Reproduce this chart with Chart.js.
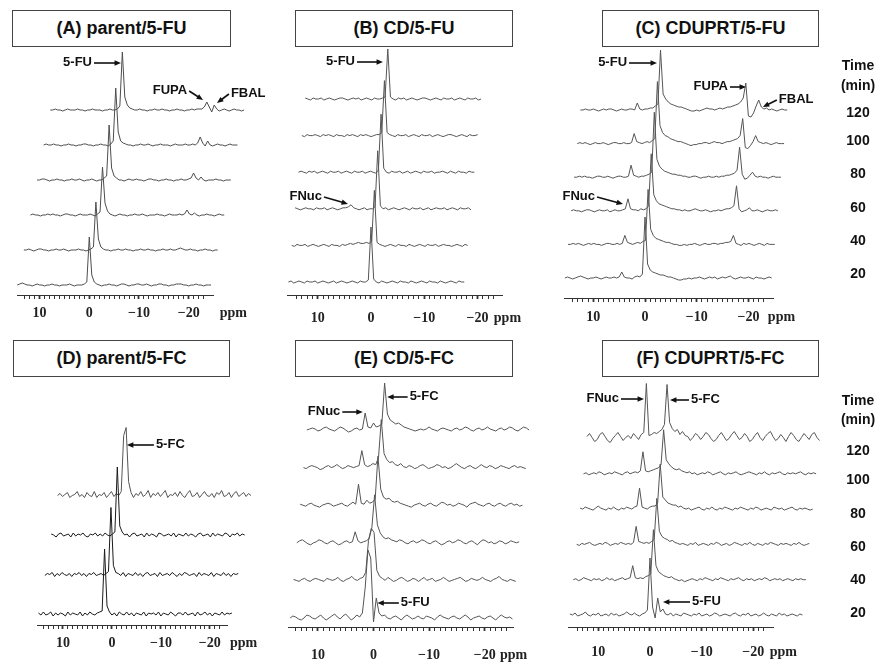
<!DOCTYPE html>
<html>
<head>
<meta charset="utf-8">
<script src="https://cdn.jsdelivr.net/npm/chart.js@4.4.1/dist/chart.umd.min.js"></script>
<style>
  body { margin: 0; background: #fff; width: 875px; height: 665px; position: relative; overflow: hidden;
         font-family: "Liberation Sans", Arial, sans-serif; }
  .title { position: absolute; height: 37px; box-sizing: border-box; border: 1.5px solid #444;
           font-weight: bold; font-size: 18px; line-height: 34px; text-align: center; color: #111; }
  canvas { position: absolute; }
  .time { position: absolute; width: 50px; text-align: center; font-weight: bold; font-size: 14px;
          color: #111; line-height: 16px; }
</style>
</head>
<body>
<div class="title" style="left:12px;top:10px;width:219px">(A) parent/5-FU</div>
<div class="title" style="left:295px;top:10px;width:218px">(B) CD/5-FU</div>
<div class="title" style="left:602px;top:10px;width:217px">(C) CDUPRT/5-FU</div>
<div class="title" style="left:13px;top:340px;width:217px">(D) parent/5-FC</div>
<div class="title" style="left:295px;top:340px;width:218px">(E) CD/5-FC</div>
<div class="title" style="left:602px;top:340px;width:217px">(F) CDUPRT/5-FC</div>

<canvas id="cA" width="290" height="282" style="left:0;top:48px"></canvas>
<canvas id="cB" width="300" height="282" style="left:280px;top:48px"></canvas>
<canvas id="cC" width="315" height="282" style="left:560px;top:48px"></canvas>
<canvas id="cD" width="290" height="287" style="left:0;top:378px"></canvas>
<canvas id="cE" width="300" height="287" style="left:280px;top:378px"></canvas>
<canvas id="cF" width="315" height="287" style="left:560px;top:378px"></canvas>

<script>
// spectra, one row per time point (bottom trace first), sampled every 0.5 ppm
const times = ["20", "40", "60", "80", "100", "120"];
const STEP = 0.5;

// (A) parent/5-FU, from 14.5 ppm
const parentFU = [
  [0,1,2,1,0,0,-1,0,1,0, 0,-1,0,0,1,0,0,-1,0,0, 0,1,0,-1,0,0,0,1,3,48,
   10,3,1,0,-1,0,0,1,0,0, -1,0,1,1,0,-1,0,0,1,1, 0,0,1,0,-1,0,0,1,1,0,
   0,-1,0,0,1,1,1,0,0,-1, 0,0,1,0,0,-1,0,0,0],
  [0,0,1,0,-1,0,1,1,0,0, -1,0,0,1,0,0,1,0,-1,0, 0,0,1,0,0,-1,0,1,3,48,
   11,3,1,0,0,-1,0,0,1,0, 0,1,0,0,-1,0,0,1,0,0, 1,0,0,-1,0,0,1,0,0,1,
   0,0,1,2,1,0,0,1,0,0, -1,0,0,1,0,0,-1,0,0],
  [0,1,0,0,-1,0,0,1,0,1, 0,0,-1,0,1,1,0,0,-1,0, 1,0,0,0,1,0,-1,1,3,48,
   12,4,1,0,-1,0,1,0,0,-1, 0,0,1,0,0,1,0,-1,0,0, 0,1,0,0,-1,0,1,0,0,0,
   1,0,1,5,1,0,2,0,-1,0, 0,1,0,0,-1,0,1,0,0],
  [0,0,1,1,0,-1,0,0,1,0, 0,-1,0,0,1,0,0,1,0,-1, 0,0,1,0,-1,0,0,2,4,55,
   12,4,2,0,0,-1,0,1,0,0, 1,0,0,-1,0,1,1,0,0,-1, 0,0,1,0,0,-1,0,0,1,0,
   0,1,2,7,2,0,3,0,-1,0, 0,0,1,0,0,-1,0,0,0],
  [0,1,0,0,1,0,0,-1,0,0, 1,0,0,-1,0,0,1,1,0,0, -1,0,0,1,0,0,-1,1,4,57,
   13,4,2,1,0,0,-1,0,0,1, 0,0,1,0,-1,0,0,1,0,0, 0,-1,0,1,0,0,0,1,0,0,
   1,0,2,8,2,-1,4,0,-1,0, 1,0,0,-1,0,1,0,0,0],
  [0,0,1,0,0,-1,0,1,0,0, 0,1,0,0,-1,0,0,1,0,0, 0,-1,0,0,1,0,0,1,4,58,
   13,5,2,1,0,0,1,0,0,-1, 0,0,1,0,0,1,0,0,-1,0, 0,1,0,0,-1,0,0,1,0,1,
   1,1,3,8,3,-2,5,1,-1,0, 1,0,-1,0,1,0,0,-1,0]
];

// (B) CD/5-FU, from 15.5 ppm
const cdFU = [
  [0,1,-1,0,1,0,-1,1,0,0, 1,-1,0,1,0,-1,0,1,-1,0, 1,0,-1,0,1,0,-1,1,0,0,
   2,55,3,0,-1,1,0,-1,0,1, 0,-1,1,0,0,-1,1,0,-1,0, 1,0,-1,1,0,0,-1,1,0,-1,
   0,1,0,-1,1,0,0],
  [0,-1,1,0,0,1,-1,0,1,0, -1,0,1,0,-1,1,0,0,-1,1, 0,1,2,1,2,3,2,2,3,2,
   4,55,3,1,0,-1,0,1,0,-1, 1,0,0,-1,1,0,-1,0,1,0, -1,1,0,0,1,-1,0,1,0,0,
   -1,0,1,0,-1,1,0],
  [1,0,-1,0,1,0,0,-1,1,0, 0,1,-1,0,1,0,-1,0,1,1, 2,4,1,0,-1,0,1,-1,0,0,
   2,58,3,0,1,-1,0,1,0,-1, 0,1,0,-1,1,0,0,1,-1,0, 1,-1,0,1,0,0,1,-1,0,1,
   0,-1,1,0,0,1,-1],
  [0,1,0,-1,1,0,1,-1,0,1, 0,-1,1,0,0,1,-1,0,1,0, -1,1,0,0,1,-1,0,1,0,-1,
   2,58,4,0,-1,1,0,0,1,-1, 0,1,-1,0,1,0,-1,1,0,0, 1,-1,0,0,1,0,-1,1,0,-1,
   1,0,0,-1,1,0,0],
  [0,-1,1,0,0,1,0,-1,1,0, 1,0,-1,1,0,0,-1,1,0,1, 0,-1,1,0,1,0,-1,0,1,1,
   3,55,3,1,0,-1,1,0,0,1, -1,0,1,0,-1,1,0,0,1,-1, 0,1,0,-1,0,1,1,0,-1,0,
   1,0,-1,1,0,0,1],
  [1,0,-1,1,0,0,1,-1,0,1, 0,-1,0,1,1,0,-1,0,1,0, 1,-1,0,1,0,-1,1,0,0,1,
   2,50,2,0,-1,1,0,1,-1,0, 1,0,-1,0,1,1,0,-1,0,1, 0,-1,1,0,0,1,-1,0,1,0,
   -1,1,0,0,1,-1,0]
];

// (C) CDUPRT/5-FU, from 15.5 ppm
const cduprtFU = [
  [0,1,0,-1,0,1,2,1,0,-1, 0,0,1,0,-1,0,1,0,0,1, 0,1,6,1,0,0,-1,1,2,1,
   4,61,14,8,6,5,4,3,3,2, 1,1,0,-1,-2,-2,-1,-1,0,-1, 0,0,1,0,-1,0,1,0,1,-1,
   0,1,0,1,2,0,-1,0,1,0, 0,1,0,-1,1,0,0,-1,0,1, 0],
  [0,0,1,0,1,0,-1,0,1,0, 1,0,0,-1,0,1,1,0,0,1, 0,1,9,2,1,0,1,2,1,3,
   4,55,15,9,6,5,4,3,2,2, 1,0,0,-1,-1,0,-1,0,0,1, 0,-1,0,1,0,0,1,1,0,1,
   1,2,2,3,9,1,0,-1,1,0, 1,0,-1,0,1,0,-1,1,0,0, 0],
  [0,1,0,0,-1,0,1,1,0,-1, 0,1,0,0,1,-1,0,1,0,0, 1,2,12,2,1,1,0,2,1,2,
   5,57,16,10,7,6,5,4,3,2, 2,1,1,0,1,0,0,1,2,1, 0,0,1,0,-1,0,0,1,0,1,
   2,2,3,5,25,2,-1,0,1,3, 0,0,1,0,-1,0,1,0,0,1, 0],
  [0,0,1,0,1,0,0,-1,0,1, 1,0,0,1,0,-1,0,1,1,0, 0,1,12,2,1,0,1,1,2,3,
   5,65,18,11,8,6,5,4,3,3, 2,2,1,1,0,0,1,1,0,-1, 0,0,1,0,0,1,0,1,1,2,
   2,3,4,7,30,3,-2,-1,2,5, 1,0,1,0,0,-1,0,1,0,0, 0],
  [0,1,0,1,0,-1,0,1,0,0, 1,0,-1,0,1,1,0,0,1,0, 0,1,10,2,1,0,1,2,1,3,
   5,62,18,11,8,7,5,4,3,2, 2,1,0,-1,-2,-1,-1,0,0,1, 1,0,1,2,1,1,0,1,2,2,
   3,4,5,8,25,-4,-5,-2,2,8, 2,1,0,1,0,-1,0,1,0,0, 0],
  [0,0,1,0,0,1,0,-1,0,1, 0,1,1,0,-1,0,1,0,0,1, 1,0,7,1,0,1,1,2,2,4,
   6,60,16,11,8,6,5,4,3,3, 2,1,0,-1,-1,0,-1,0,1,2, 1,1,0,1,2,1,2,3,3,4,
   5,6,8,12,27,-6,-7,-3,4,10, 3,1,2,0,1,0,-1,0,1,0, 0]
];

// (D) parent/5-FC, from 15 ppm
const parentFC = [
  [1,-1,2,-1,0,2,-2,1,-1,1, 0,-2,2,-1,1,0,-1,2,-2,1, -1,2,0,-1,1,2,3,65,8,2,
   -1,1,-2,2,0,-1,2,-1,1,-2, 1,0,-1,2,-2,1,0,1,-1,2, -2,1,0,-1,2,0,-2,1,1,-1,
   2,-1,0,1,-2,2,-1,0,2,-1, 1,-2,1,0,-1,2,-1,1,0,1],
  [-1,1,0,2,-2,1,-1,2,0,-1, 1,-2,1,0,2,-1,1,-2,1,0, 2,-1,0,1,-1,1,3,67,9,2,
   1,-1,2,-2,1,0,-1,2,-1,1, -2,1,2,-1,0,1,-2,2,-1,0, 1,-1,2,0,-2,1,-1,2,1,-1,
   0,1,-2,2,-1,1,0,-1,2,-2, 1,0,-1,2,-1,1,-2,1,0,1],
  [1,0,-2,1,2,-1,0,1,-2,2, -1,1,0,2,-1,-2,1,0,2,-1, 1,-1,2,0,-1,1,3,68,9,3,
   0,1,-2,1,2,-1,0,1,-2,2, -1,1,0,-2,2,1,-1,0,1,-1, 2,-2,1,0,-1,2,-1,1,0,-2,
   1,2,-1,0,1,-2,2,-1,1,0, -1,2,1,-2,1,0,2,-1,1,0],
  [0,2,-1,1,3,-2,0,1,4,-1, 1,-2,3,0,-1,4,-2,1,0,3, -2,1,4,-1,2,0,4,60,68,14,
   3,-2,2,0,4,-1,1,5,-2,2, 0,3,-1,2,5,-2,1,0,3,-1, 4,0,-2,2,5,-1,0,3,-2,1,
   4,0,-1,2,-2,3,1,5,-1,0, 3,-2,2,4,-1,1,3,-1,2,0]
];

// (E) CD/5-FC, from 15 ppm
const cdFC = [
  [0,2,1,-1,-2,0,3,2,0,-1, 1,3,0,-2,0,2,4,1,-1,2, 4,1,-2,0,3,1,5,30,68,60,
   -4,20,5,2,3,0,-1,1,2,0, -2,1,3,1,-1,0,2,0,-1,2, 1,0,-2,1,3,1,0,-1,1,2,
   0,-1,1,3,1,-2,0,1,2,0, -1,1,2,0,-2,1,3,1,0,1, -1],
  [1,0,-1,1,2,0,-1,1,2,1, 0,-1,2,1,0,1,3,0,-1,1, 2,4,1,0,2,3,8,40,52,48,
   10,4,2,0,3,1,-1,0,2,3, 1,-1,0,2,1,-1,1,3,0,1, 2,-1,0,1,3,1,-1,0,1,2,
   3,1,-1,0,2,1,0,1,3,1, 0,-1,1,2,4,1,0,-1,1,0, -1],
  [0,2,3,1,-1,-2,0,1,3,2, 0,-1,1,2,0,-2,-1,1,2,0, 1,11,2,0,1,2,4,15,48,18,
   10,6,4,5,3,2,1,3,2,0, -1,1,2,0,1,3,2,0,-1,1, 2,0,-2,-1,1,2,0,1,3,2,
   0,-1,1,2,0,-2,1,3,2,0, 1,-1,0,2,1,-1,0,2,1,0, 1],
  [1,0,-1,1,2,0,-1,-2,0,1, 2,1,-1,0,1,2,0,-1,1,3, 1,21,2,1,5,2,3,6,49,16,
   8,6,7,4,3,4,2,1,0,-1, -2,0,1,2,0,-1,1,2,0,-1, 1,3,2,0,1,-1,0,2,1,0,
   -2,1,2,3,1,0,-1,1,2,0, -1,1,2,0,-1,1,2,0,1,-1, 0],
  [0,-1,1,2,1,0,-2,-1,1,2, 0,1,3,1,-1,0,2,1,0,1, 2,17,3,1,2,4,3,10,48,14,
   8,5,6,3,2,4,1,0,2,1, -1,0,2,3,1,-1,0,1,3,2, 0,1,-1,0,2,4,2,0,-1,1,
   2,0,-1,1,3,1,0,2,1,-1, 0,2,1,0,-1,1,2,0,1,0, -1],
  [0,1,2,1,-1,0,2,3,1,0, -1,1,3,2,0,-2,-1,1,2,0, 1,17,3,2,7,3,4,6,47,16,
   10,8,6,7,5,3,2,1,0,-1, 0,1,0,1,3,1,0,-1,1,2, 1,0,-1,1,2,0,1,3,2,0,
   -1,1,2,0,1,3,1,0,-1,1, 2,0,1,3,2,0,-1,1,3,2, 0]
];

// (F) CDUPRT/5-FC, from 15.5 ppm
const cduprtFC = [
  [1,0,2,-1,0,1,3,0,-1,1, 0,2,-1,0,1,-1,2,0,1,-1, 0,1,3,1,0,2,0,-1,1,2,
   5,57,8,-3,17,3,6,1,0,2, -1,1,0,-1,2,1,0,-1,1,0, 2,-1,0,1,-1,0,2,1,-1,0,
   1,0,-1,1,2,0,-1,1,0,2, -1,0,1,-1,0,2,0,-1,1,0, -1,2,0,1,-1,0,1,0,-1,1, 0],
  [0,1,-1,0,2,1,0,-1,1,0, 1,-1,0,2,0,1,-1,0,1,2, 0,1,2,14,2,1,2,1,3,4,
   6,50,14,8,6,4,3,2,3,1, 0,-1,0,-2,-1,0,1,0,-1,1, 0,2,1,0,-1,1,0,2,1,0,
   -1,1,0,1,2,0,-1,1,0,1, -1,0,1,0,2,1,-1,0,1,0, 1,-1,0,1,0,-1,1,0,1,0, 0],
  [0,-1,1,0,1,2,0,-1,0,1, 0,2,1,-1,0,1,0,2,1,0, 1,0,2,18,3,2,1,2,1,3,
   5,46,13,8,6,5,3,4,2,1, 0,1,0,-1,1,0,2,-1,0,1, 0,-1,1,0,2,1,-1,0,1,-1,
   0,2,1,0,-1,1,0,2,0,-1, 1,0,-1,1,0,2,1,0,-1,1, 0,1,0,-1,1,0,2,0,-1,0, 1],
  [1,0,2,1,0,-1,1,3,1,0, -1,1,0,2,0,-1,1,0,2,1, 0,2,3,21,2,1,0,2,3,3,
   6,45,12,9,6,5,4,4,2,3, 1,0,1,-1,0,1,2,0,-1,1, 0,2,0,-1,1,0,2,1,0,-1,
   1,0,2,1,0,-1,1,0,2,1, -1,0,1,0,-1,2,1,0,1,-1, 0,1,2,0,-1,1,0,1,0,-1, 0],
  [0,1,-1,0,1,0,2,1,-1,0, 1,0,2,1,0,-1,1,2,0,1, 2,1,3,22,3,2,3,4,5,6,
   9,44,14,10,7,5,4,5,3,2, 1,2,0,1,-1,0,1,0,2,1, -1,0,1,2,0,-1,1,0,1,2,
   0,-1,0,1,2,1,0,-1,1,0, 2,0,-1,1,0,1,2,0,-1,1, 0,1,0,1,2,0,-1,1,0,1, 0],
  [2,5,1,-3,-1,4,6,2,-2,-4, 0,3,6,2,-2,1,3,0,5,2, -1,4,6,55,3,4,6,5,7,9,
   14,54,16,10,7,9,4,7,3,2, -2,1,5,3,-1,2,6,4,0,-3, -1,3,6,2,-2,0,4,7,3,-1,
   1,5,2,-3,-1,3,6,1,-2,2, 5,7,2,-2,0,4,1,-3,2,6, 3,-1,-3,1,5,2,-1,4,6,1, -2]
];

// layout of each panel (axis range in ppm, stacking offsets in px)
const panels = [
  { id: "cA", traces: parentFU, start: 14.5, shift: 1.33, base: 10, gap: 35, min: -24.9, max: 14.55,
    padLeft: 17, padRight: 77, axisH: 35, top: 247, labelPad: 6, ppmAt: -29.0, color: "#4d4d4d",
    notes: [
      { text: "5-FU", from: [-0.95, 232], to: [-6.38, 232] },
      { text: "FUPA", from: [-20.1, 204], to: [-22.9, 195] },
      { text: "FBAL", from: [-28.1, 201], to: [-25.7, 192] }
    ] },
  { id: "cB", traces: cdFU, start: 15.5, shift: 0.63, base: 13, gap: 36.6, min: -24.58, max: 15.76,
    padLeft: 7, padRight: 78, axisH: 35, top: 247, labelPad: 10.6, ppmAt: -25.6, color: "#555",
    notes: [
      { text: "5-FU", from: [2.63, 233], to: [-2.25, 233] },
      { text: "FNuc", from: [8.82, 98], to: [4.32, 91] }
    ] },
  { id: "cC", traces: cduprtFU, start: 15.5, shift: 0.6, base: 20, gap: 33.6, min: -24.76, max: 15.67,
    padLeft: 4, padRight: 102, axisH: 32, top: 250, labelPad: 6.6, ppmAt: -26.4, color: "#555",
    notes: [
      { text: "5-FU", from: [3.09, 235], to: [-2.32, 235] },
      { text: "FUPA", from: [-16.44, 211], to: [-19.54, 211] },
      { text: "FBAL", from: [-25.5, 198], to: [-22.8, 191] },
      { text: "FNuc", from: [9.28, 101], to: [4.26, 94] }
    ] },
  { id: "cD", traces: parentFC, start: 15, shift: 1.3, base: 11, gap: 39.5, min: -23.5, max: 15.3,
    padLeft: 37, padRight: 63, axisH: 40, top: 247, labelPad: 5.6, ppmAt: -26.9,
    colors: ["#1a1a1a", "#1a1a1a", "#1a1a1a", "#555"],
    notes: [
      { text: "5-FC", from: [-8.57, 180], to: [-3.06, 180] }
    ] },
  { id: "cE", traces: cdFC, start: 15, shift: 0.6, base: 9, gap: 37.6, min: -25.1, max: 15.26,
    padLeft: 3, padRight: 67, axisH: 38, top: 249, labelPad: 15.6, ppmAt: -25.2, color: "#555",
    notes: [
      { text: "FNuc", from: [5.61, 215], to: [1.93, 215] },
      { text: "5-FC", from: [-6.14, 230], to: [-2.46, 230] },
      { text: "5-FU", from: [-4.56, 24], to: [-0.7, 24] }
    ] },
  { id: "cF", traces: cduprtFC, start: 15.5, shift: 0.66, base: 12, gap: 35.3, min: -23.8, max: 15.86,
    padLeft: 8, padRight: 102, axisH: 38, top: 249, labelPad: 12.6, ppmAt: -25.8, color: "#555",
    notes: [
      { text: "FNuc", from: [5.61, 228], to: [1.16, 228] },
      { text: "5-FC", from: [-7.54, 227], to: [-3.87, 227] },
      { text: "5-FU", from: [-7.74, 25], to: [-2.51, 25] }
    ] }
];

const TICK_LEN = 4;
const TICK_FONT = 14;

// arrows with labels + the "ppm" unit next to the axis
function notesFor(p) {
  return {
    id: "notes",
    afterDatasetsDraw(chart) {
      const { ctx } = chart;
      const x = chart.scales.x, y = chart.scales.y;
      ctx.save();
      ctx.fillStyle = "#111";
      ctx.strokeStyle = "#111";
      ctx.lineWidth = 1.6;
      ctx.font = 'bold 13px "Liberation Sans", Arial, sans-serif';
      p.notes.forEach(n => {
        const x0 = x.getPixelForValue(n.from[0]), y0 = y.getPixelForValue(n.from[1]);
        const x1 = x.getPixelForValue(n.to[0]), y1 = y.getPixelForValue(n.to[1]);
        const a = Math.atan2(y1 - y0, x1 - x0);
        ctx.beginPath();
        ctx.moveTo(x0, y0);
        ctx.lineTo(x1 - 5 * Math.cos(a), y1 - 5 * Math.sin(a));
        ctx.stroke();
        ctx.beginPath();
        ctx.moveTo(x1, y1);
        ctx.lineTo(x1 - 7 * Math.cos(a - 0.4), y1 - 7 * Math.sin(a - 0.4));
        ctx.lineTo(x1 - 7 * Math.cos(a + 0.4), y1 - 7 * Math.sin(a + 0.4));
        ctx.closePath();
        ctx.fill();
        ctx.textBaseline = "middle";
        ctx.textAlign = x1 > x0 ? "right" : "left";
        ctx.fillText(n.text, x0 + (x1 > x0 ? -2 : 2), y0 - 1);
      });
      ctx.font = 'bold ' + TICK_FONT + 'px "Liberation Serif", "Times New Roman", serif';
      ctx.fillStyle = "#222";
      ctx.textAlign = "center";
      ctx.textBaseline = "middle";
      ctx.fillText("ppm", x.getPixelForValue(p.ppmAt), x.top + TICK_LEN + p.labelPad + TICK_FONT * 0.6);
      ctx.restore();
    }
  };
}

function drawPanel(p) {
  const datasets = p.traces.map((vals, level) => ({
    data: vals.map((v, k) => ({ x: p.start - STEP * k - level * p.shift, y: p.base + level * p.gap + v })),
    borderColor: p.colors ? p.colors[level] : p.color,
    borderWidth: 1,
    pointRadius: 0,
    tension: 0,
    clip: false
  }));

  new Chart(document.getElementById(p.id), {
    type: "line",
    data: { datasets },
    options: {
      responsive: false,
      animation: false,
      events: [],
      layout: { padding: { left: p.padLeft, right: p.padRight, top: 0, bottom: 0 } },
      plugins: { legend: { display: false }, tooltip: { enabled: false } },
      scales: {
        x: {
          type: "linear",
          reverse: true,
          min: p.min,
          max: p.max,
          afterBuildTicks: s => { s.ticks = s.ticks.filter(t => Number.isInteger(t.value)); },
          afterFit: s => { s.height = p.axisH; },
          ticks: {
            stepSize: 1,
            autoSkip: false,
            maxRotation: 0,
            padding: p.labelPad,
            color: "#222",
            font: { family: '"Liberation Serif", "Times New Roman", serif', size: TICK_FONT, weight: "bold" },
            callback: v => (v % 10 === 0 ? (v < 0 ? "\u2212" + (-v) : String(v)) : "")
          },
          grid: {
            drawOnChartArea: false,
            tickLength: TICK_LEN,
            color: "#333",
            tickWidth: c => (c.tick && c.tick.value % 10 === 0 ? 1.8 : 1)
          },
          border: { color: "#333", width: 1 }
        },
        y: { display: false, min: 0, max: p.top }
      }
    },
    plugins: [notesFor(p)]
  });
}

panels.forEach(drawPanel);

// time column beside (C) and (F)
const timeCols = [
  { x: 833, head: [65, 85], rows: [273, 240, 207, 173, 140, 112] },
  { x: 833, head: [400, 419], rows: [612, 579, 546, 513, 479, 450] }
];
timeCols.forEach(col => {
  const add = (txt, y) => {
    const d = document.createElement("div");
    d.className = "time";
    d.style.left = col.x + "px";
    d.style.top = (y - 8) + "px";
    d.textContent = txt;
    document.body.appendChild(d);
  };
  add("Time", col.head[0]);
  add("(min)", col.head[1]);
  times.forEach((t, i) => add(t, col.rows[i]));
});
</script>
</body>
</html>
